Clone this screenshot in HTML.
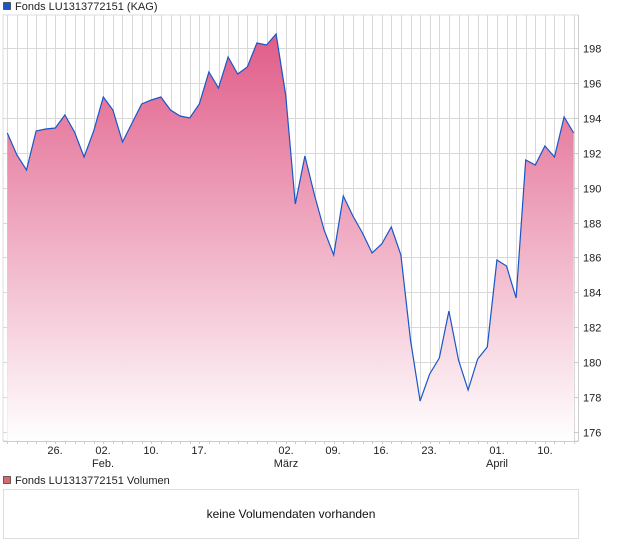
<!DOCTYPE html>
<html><head><meta charset="utf-8"><style>
body{margin:0;background:#fff;width:620px;height:546px;overflow:hidden;font-family:"Liberation Sans",sans-serif}
</style></head><body>
<svg width="620" height="546" xmlns="http://www.w3.org/2000/svg" font-family="Liberation Sans, sans-serif">
<defs><linearGradient id="g" gradientUnits="userSpaceOnUse" x1="0" y1="34" x2="0" y2="441">
<stop offset="0" stop-color="#e05c88"/><stop offset="1" stop-color="#ffffff"/></linearGradient></defs>
<rect x="3" y="15" width="575.5" height="426" fill="#fff" stroke="#ddd"/>
<g stroke="#d8d8d8" stroke-width="1" id="grid"></g>
<path id="area" fill="url(#g)"/>
<path id="line" fill="none" stroke="#1a56c8" stroke-width="1.2"/>
<line x1="578.5" y1="15" x2="578.5" y2="441" stroke="#ccc"/>
<line x1="3" y1="441.5" x2="578.5" y2="441.5" stroke="#ccc"/>
<g id="ticks" stroke="#ccc"></g>
<g font-size="11" fill="#222" id="ylab"></g>
<g font-size="11" fill="#222" text-anchor="middle">
<text x="55" y="454">26.</text><text x="103" y="454">02.</text><text x="151" y="454">10.</text><text x="199" y="454">17.</text>
<text x="286" y="454">02.</text><text x="333" y="454">09.</text><text x="381" y="454">16.</text><text x="429" y="454">23.</text>
<text x="497" y="454">01.</text><text x="545" y="454">10.</text>
<text x="103" y="467">Feb.</text><text x="286" y="467">März</text><text x="497" y="467">April</text>
</g>
<rect x="3.5" y="2.5" width="7" height="7" fill="#1a56c8" stroke="#333" stroke-width="0.7"/>
<text x="15" y="10" font-size="11" fill="#222">Fonds LU1313772151 (KAG)</text>
<rect x="3.5" y="476.5" width="7" height="7" fill="#d96a6a" stroke="#333" stroke-width="0.7"/>
<text x="15" y="484" font-size="11" fill="#222">Fonds LU1313772151 Volumen</text>
<rect x="3.5" y="489.5" width="575" height="49" fill="#fff" stroke="#ddd"/>
<text x="291" y="518" font-size="12" fill="#111" text-anchor="middle">keine Volumendaten vorhanden</text>
</svg>
<script>
var ys=[133,155,170,131,129,128,115,132,157,131,97,110,142,123,104,100,97,110,116,118,104,72,88,57,74,67,43,45,34,95,204,156,195,230,255,196,216,233,253,244,227,255,340,401,374,358,311,360,390,359,347,260,266,298,160,165,146,157,117,133];
var ns="http://www.w3.org/2000/svg";
var g=document.getElementById('grid'),t=document.getElementById('ticks'),yl=document.getElementById('ylab');
function el(p,n,a){var e=document.createElementNS(ns,n);for(var k in a)e.setAttribute(k,a[k]);p.appendChild(e);return e;}
for(var i=0;i<60;i++){var x=Math.round(7.3+9.6*i)+0.5;el(g,'line',{x1:x,y1:15,x2:x,y2:441});el(t,'line',{x1:x,y1:441,x2:x,y2:444});}
for(var v=176;v<=198;v+=2){var y=Math.round(48+(198-v)*17.45)+0.5;el(g,'line',{x1:3,y1:y,x2:578,y2:y});el(t,'line',{x1:574,y1:y,x2:578,y2:y});var tx=el(yl,'text',{x:583,y:y+4});tx.textContent=v;}
var d='';for(var i=0;i<60;i++){d+=(i?'L':'M')+(7.3+9.6*i).toFixed(1)+','+ys[i];}
document.getElementById('line').setAttribute('d',d);
document.getElementById('area').setAttribute('d',d+'L573.7,441L7.3,441Z');
</script>
</body></html>
